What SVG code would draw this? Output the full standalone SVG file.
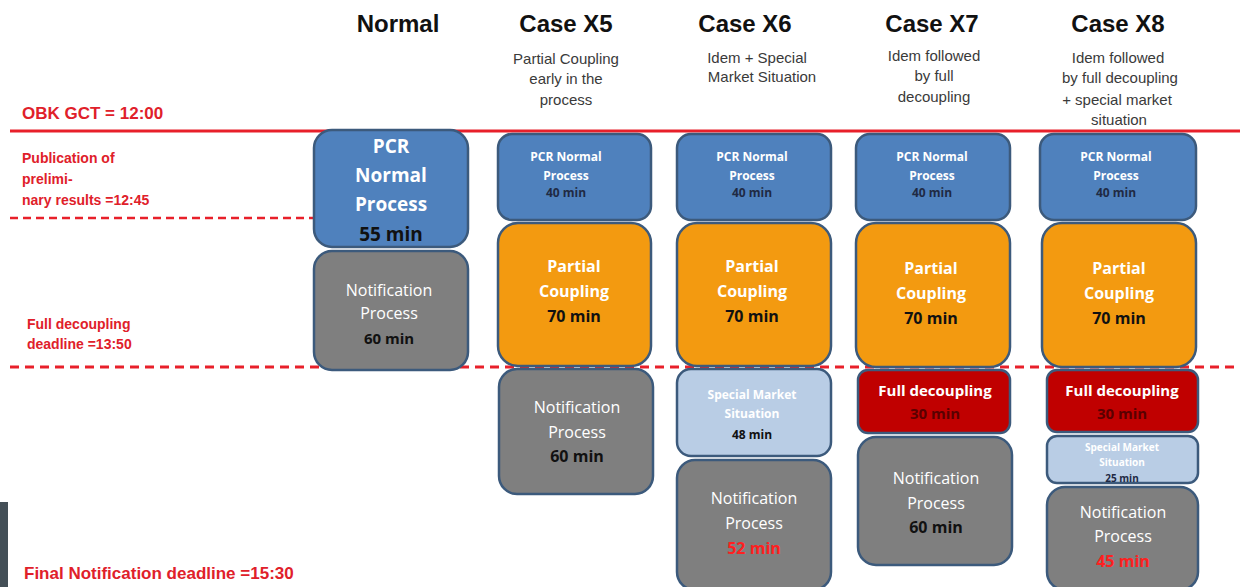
<svg xmlns="http://www.w3.org/2000/svg" width="1240" height="587" viewBox="0 0 1240 587">
<style>
text{font-family:"Liberation Sans",Arial,sans-serif;text-anchor:middle}
.hd{font-size:24px;font-weight:bold;fill:#111}
.sub{font-size:15px;fill:#3a3a3a}
.lbl{text-anchor:start;font-weight:bold;fill:#e0202a}
.bx{stroke:#3c5a7c;stroke-width:2.5}
.blue{fill:#4f81bd}
.org{fill:#f39a10}
.gry{fill:#7f7f7f}
.lb{fill:#b9cde5}
.red{fill:#c00000}
.bt{font-family:"Open Sans","Liberation Sans",sans-serif;font-weight:bold}
.w{fill:#fff}
.k{fill:#111}
.nv{fill:#1f2a44}
.r{fill:#ff2020}
.dr{fill:#5a0000}
</style>
<rect x="0" y="502" width="8" height="85" fill="#444f57"/>
<g id="headers">
<text class="hd" x="398" y="32">Normal</text>
<text class="hd" x="566" y="32">Case X5</text>
<text class="sub" x="566" y="64">Partial Coupling</text>
<text class="sub" x="566" y="84">early in the</text>
<text class="sub" x="566" y="105">process</text>
<text class="hd" x="745" y="32">Case X6</text>
<text class="sub" x="757" y="63">Idem + Special</text>
<text class="sub" x="762" y="82">Market Situation</text>
<text class="hd" x="932" y="32">Case X7</text>
<text class="sub" x="934" y="61">Idem followed</text>
<text class="sub" x="934" y="81">by full</text>
<text class="sub" x="934" y="102">decoupling</text>
<text class="hd" x="1118" y="32">Case X8</text>
<text class="sub" x="1118" y="63">Idem followed</text>
<text class="sub" x="1120" y="83">by full decoupling</text>
<text class="sub" x="1117" y="105">+ special market</text>
<text class="sub" x="1119" y="125">situation</text>
</g>
<g id="timeline">
<line x1="10" y1="131" x2="1240" y2="131" stroke="#e8202a" stroke-width="3"/>
<line x1="10" y1="218" x2="315" y2="218" stroke="#e8202a" stroke-width="2.5" stroke-dasharray="8,5"/>
<line x1="10" y1="367" x2="1240" y2="367" stroke="#e8202a" stroke-width="3" stroke-dasharray="9,6"/>
<text class="lbl" x="22" y="119" font-size="17">OBK GCT = 12:00</text>
<text class="lbl" x="22" y="163" font-size="14">Publication of</text>
<text class="lbl" x="22" y="184" font-size="14">prelimi-</text>
<text class="lbl" x="22" y="205" font-size="14">nary results =12:45</text>
<text class="lbl" x="27" y="329" font-size="14">Full decoupling</text>
<text class="lbl" x="27" y="349" font-size="14">deadline =13:50</text>
<text class="lbl" x="24" y="579" font-size="17">Final Notification  deadline =15:30</text>
</g>
<g id="normal">
<g id="n-pcr"><rect class="bx blue" x="314" y="130" width="154" height="117" rx="18"/>
<text class="bt w" x="391" y="153" font-size="19">PCR</text>
<text class="bt w" x="391" y="182" font-size="19">Normal</text>
<text class="bt w" x="391" y="211" font-size="19">Process</text>
<text class="bt k" x="391" y="241" font-size="19">55 min</text></g>
<g id="n-notif"><rect class="bx gry" x="314" y="251" width="154" height="119" rx="18"/>
<text class="bt w" x="389" y="296" font-size="16" font-weight="normal" style="font-weight:normal">Notification</text>
<text class="bt w" x="389" y="319" font-size="16" style="font-weight:normal">Process</text>
<text class="bt k" x="389" y="344" font-size="15">60 min</text></g>
</g>
<g id="x5">
<g id="x5-pcr"><rect class="bx blue" x="498" y="134" width="153" height="86" rx="14"/>
<text class="bt w" x="566" y="161" font-size="12">PCR Normal</text>
<text class="bt w" x="566" y="180" font-size="12">Process</text>
<text class="bt nv" x="566" y="197" font-size="12">40 min</text></g>
<g id="x5-pc"><rect class="bx org" x="498" y="223" width="153" height="143" rx="20"/>
<text class="bt w" x="574" y="272" font-size="16">Partial</text>
<text class="bt w" x="574" y="297" font-size="16">Coupling</text>
<text class="bt k" x="574" y="322" font-size="16">70 min</text></g>
<g id="x5-notif"><rect class="bx gry" x="499" y="369" width="154" height="125" rx="18"/>
<text class="bt w" x="577" y="413" font-size="16" style="font-weight:normal">Notification</text>
<text class="bt w" x="577" y="438" font-size="16" style="font-weight:normal">Process</text>
<text class="bt k" x="577" y="462" font-size="16">60 min</text></g>
</g>
<g id="x6">
<g id="x6-pcr"><rect class="bx blue" x="677" y="134" width="154" height="86" rx="14"/>
<text class="bt w" x="752" y="161" font-size="12">PCR Normal</text>
<text class="bt w" x="752" y="180" font-size="12">Process</text>
<text class="bt nv" x="752" y="197" font-size="12">40 min</text></g>
<g id="x6-pc"><rect class="bx org" x="677" y="223" width="154" height="143" rx="20"/>
<text class="bt w" x="752" y="272" font-size="16">Partial</text>
<text class="bt w" x="752" y="297" font-size="16">Coupling</text>
<text class="bt k" x="752" y="322" font-size="16">70 min</text></g>
<g id="x6-sms"><rect class="bx lb" x="677" y="369" width="154" height="87" rx="14"/>
<text class="bt w" x="752" y="399" font-size="12">Special Market</text>
<text class="bt w" x="752" y="418" font-size="12">Situation</text>
<text class="bt k" x="752" y="439" font-size="12">48 min</text></g>
<g id="x6-notif"><rect class="bx gry" x="677" y="460" width="154" height="130" rx="18"/>
<text class="bt w" x="754" y="504" font-size="16" style="font-weight:normal">Notification</text>
<text class="bt w" x="754" y="529" font-size="16" style="font-weight:normal">Process</text>
<text class="bt r" x="754" y="554" font-size="16">52 min</text></g>
</g>
<g id="x7">
<g id="x7-pcr"><rect class="bx blue" x="856" y="134" width="154" height="86" rx="14"/>
<text class="bt w" x="932" y="161" font-size="12">PCR Normal</text>
<text class="bt w" x="932" y="180" font-size="12">Process</text>
<text class="bt nv" x="932" y="197" font-size="12">40 min</text></g>
<g id="x7-pc"><rect class="bx org" x="856" y="223" width="154" height="144" rx="20"/>
<text class="bt w" x="931" y="274" font-size="16">Partial</text>
<text class="bt w" x="931" y="299" font-size="16">Coupling</text>
<text class="bt k" x="931" y="324" font-size="16">70 min</text></g>
<g id="x7-fd"><rect class="bx red" x="858" y="370" width="152" height="63" rx="10"/>
<text class="bt w" x="935" y="396" font-size="15">Full decoupling</text>
<text class="bt dr" x="935" y="419" font-size="15">30 min</text></g>
<g id="x7-notif"><rect class="bx gry" x="858" y="437" width="154" height="128" rx="18"/>
<text class="bt w" x="936" y="484" font-size="16" style="font-weight:normal">Notification</text>
<text class="bt w" x="936" y="509" font-size="16" style="font-weight:normal">Process</text>
<text class="bt k" x="936" y="533" font-size="16">60 min</text></g>
</g>
<g id="x8">
<g id="x8-pcr"><rect class="bx blue" x="1040" y="134" width="156" height="86" rx="14"/>
<text class="bt w" x="1116" y="161" font-size="12">PCR Normal</text>
<text class="bt w" x="1116" y="180" font-size="12">Process</text>
<text class="bt nv" x="1116" y="197" font-size="12">40 min</text></g>
<g id="x8-pc"><rect class="bx org" x="1042" y="223" width="154" height="144" rx="20"/>
<text class="bt w" x="1119" y="274" font-size="16">Partial</text>
<text class="bt w" x="1119" y="299" font-size="16">Coupling</text>
<text class="bt k" x="1119" y="324" font-size="16">70 min</text></g>
<g id="x8-fd"><rect class="bx red" x="1047" y="370" width="151" height="62" rx="10"/>
<text class="bt w" x="1122" y="396" font-size="15">Full decoupling</text>
<text class="bt dr" x="1122" y="419" font-size="15">30 min</text></g>
<g id="x8-sms"><rect class="bx lb" x="1047" y="436" width="151" height="47" rx="10"/>
<text class="bt w" x="1122" y="451" font-size="10">Special Market</text>
<text class="bt w" x="1122" y="466" font-size="10">Situation</text>
<text class="bt nv" x="1122" y="482" font-size="10">25 min</text></g>
<g id="x8-notif"><rect class="bx gry" x="1047" y="487" width="151" height="103" rx="18"/>
<text class="bt w" x="1123" y="518" font-size="16" style="font-weight:normal">Notification</text>
<text class="bt w" x="1123" y="542" font-size="16" style="font-weight:normal">Process</text>
<text class="bt r" x="1123" y="567" font-size="16">45 min</text></g>
</g>
<g id="connectors"></g>
</svg>
